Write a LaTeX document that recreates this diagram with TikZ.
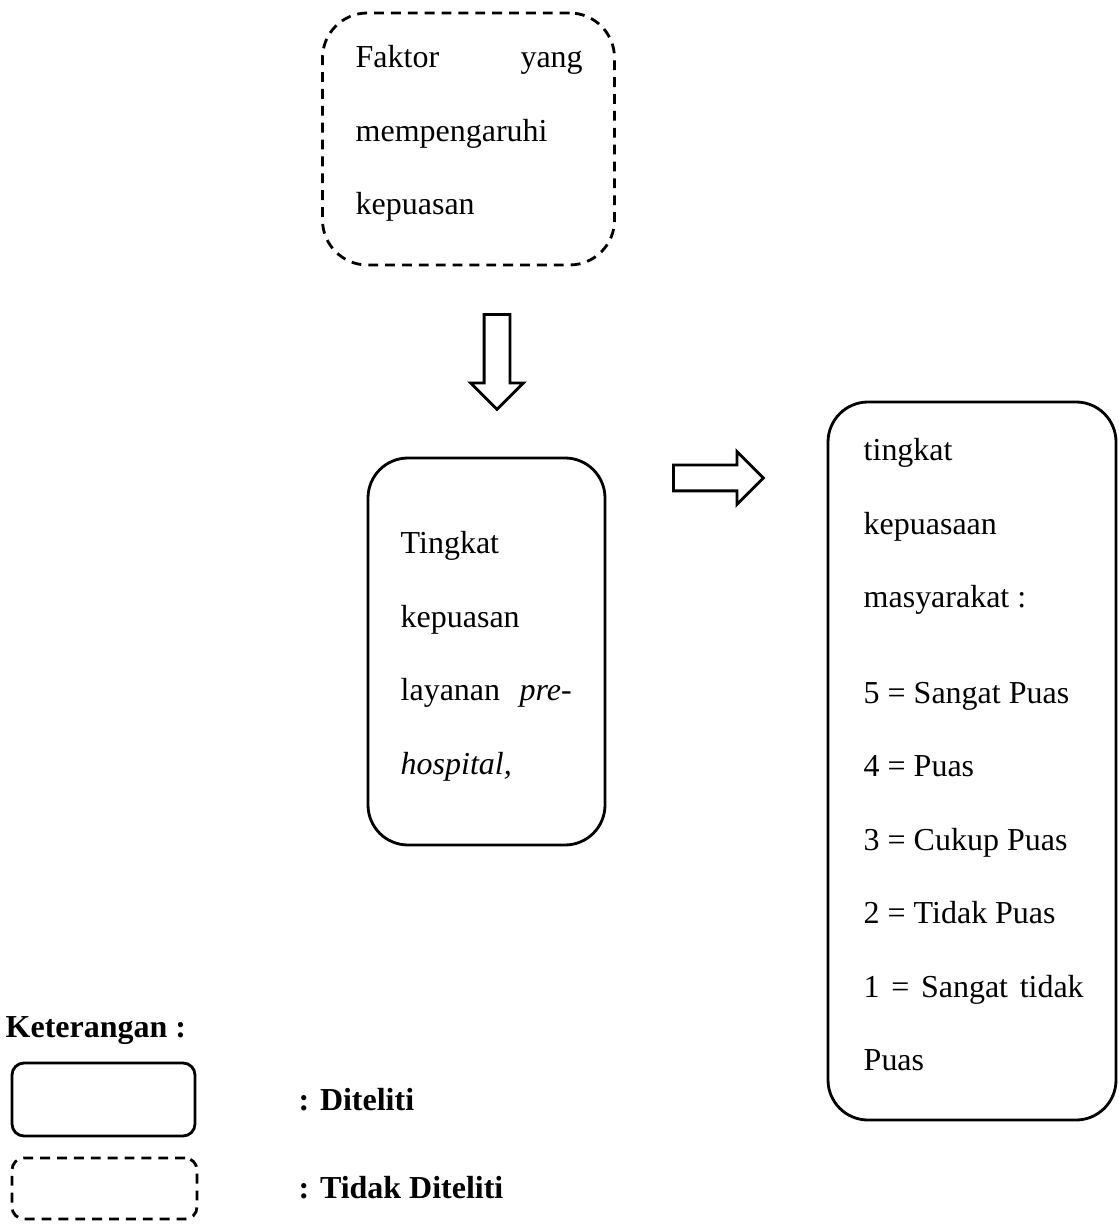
\documentclass[tikz,border=0pt]{standalone}
\usepackage{fontspec}
\setmainfont{Liberation Serif}
\usetikzlibrary{shapes.arrows}

\begin{document}
\begin{tikzpicture}[
    txt/.style={font=\fontsize{9.1pt}{20.9pt}\selectfont},
    boldtxt/.style={font=\fontsize{9.1pt}{20.9pt}\selectfont\bfseries, anchor=base west, inner sep=0pt},
    box/.style={draw, line width=0.8pt, rounded corners=0.4cm, inner sep=0pt},
    dashbox/.style={box, dash pattern=on 2.8pt off 2pt},
    boxtext/.style={txt, anchor=north west, inner sep=0pt, align=flush left},
    bigarrow/.style={draw, line width=0.8pt, single arrow, single arrow head extend=0.135cm,
      single arrow tip angle=90, inner sep=0.115cm, minimum width=0.5cm}
  ]

  % page frame
  \useasboundingbox (0,0) rectangle (11.18,-12.31);

  % Factor box (not studied)
  \node[dashbox, rounded corners=0.45cm, minimum width=2.92cm, minimum height=2.52cm] (faktor) at (4.685,-1.39) {};
  \node[boxtext, text width=2.27cm] (faktortxt) at (3.55,-0.45) {Faktor\hfill yang\\ mempengaruhi\\ kepuasan};

  % Down arrow
  \node[bigarrow, rotate=-90, minimum height=0.95cm] (downarr) at (4.97,-3.555) {};

  % Service satisfaction box
  \node[box, minimum width=2.37cm, minimum height=3.87cm] (layanan) at (4.865,-6.515) {};
  \node[boxtext, text width=1.71cm] (layanantxt) at (4.00,-5.31)
    {Tingkat\\ kepuasan\\ layanan\hfill\textit{pre-}\\ \textit{hospital,}};

  % Right arrow
  \node[bigarrow, minimum height=0.90cm] (rightarr) at (7.12,-4.78) {};

  % Community satisfaction box
  \node[box, minimum width=2.88cm, minimum height=7.18cm] (tingkat) at (9.72,-7.61) {};
  \node[boxtext, text width=2.2cm] (tingkattxt) at (8.63,-4.38)
    {tingkat\\ kepuasaan\\ masyarakat :\\[0.22cm]
     5 = Sangat Puas\\ 4 = Puas\\ 3 = Cukup Puas\\ 2 = Tidak Puas\\
     1\hfill=\hfill Sangat\hfill tidak\\ Puas};

  % Legend
  \node[boldtxt] (ket) at (0.05,-10.37) {Keterangan :};
  \node[box, rounded corners=0.12cm, minimum width=1.83cm, minimum height=0.73cm] (legsolid) at (1.035,-10.995) {};
  \node[dashbox, rounded corners=0.12cm, minimum width=1.85cm, minimum height=0.61cm] (legdash) at (1.045,-11.885) {};
  \node[boldtxt] (diteliti) at (2.98,-11.10) {: Diteliti};
  \node[boldtxt] (tidak) at (2.98,-11.98) {: Tidak Diteliti};

\end{tikzpicture}
\end{document}
